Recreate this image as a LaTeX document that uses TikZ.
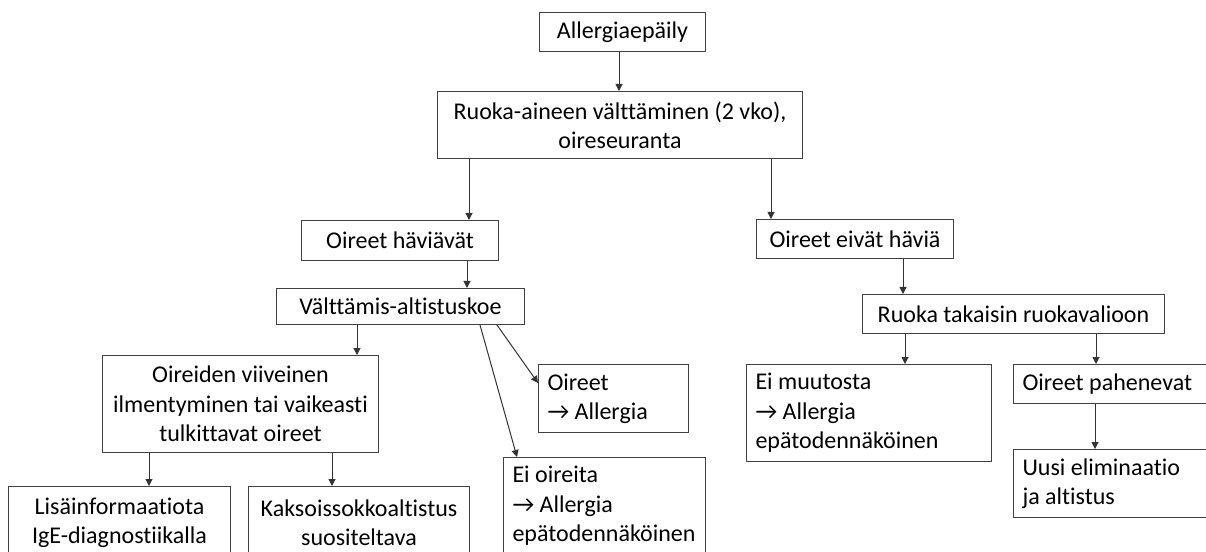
\documentclass[tikz,border=0pt]{standalone}
\usepackage{fontspec}
\setmainfont{Carlito}[Ligatures=NoCommon]
\usetikzlibrary{arrows.meta}
\newlength{\pxu}\setlength{\pxu}{0.75pt}

\begin{document}
\begin{tikzpicture}[x=\pxu,y=-\pxu,
    box/.style={draw=black!75,line width=1\pxu,inner xsep=9\pxu,inner ysep=2\pxu,
      anchor=north west,font=\fontsize{18}{22}\selectfont},
    cbox/.style={box,align=flush center},
    lbox/.style={box,align=flush left},
    arr/.style={draw=black!80,line width=1\pxu,-{Triangle[length=5.25pt,width=5.25pt]}}]
  \useasboundingbox (0,0) rectangle (1206,552);
  % top
  \node[cbox,minimum width=166\pxu,minimum height=39\pxu] (epaily) at (539,12) {Allergiaepäily};
  \node[cbox,minimum width=365\pxu,minimum height=67\pxu] (ruoka) at (437,91)
    {Ruoka-aineen välttäminen (2 vko),\\oireseuranta};
  % left branch
  \node[cbox,minimum width=197\pxu,minimum height=40\pxu] (hav) at (301,220) {Oireet häviävät};
  \node[cbox,minimum width=248\pxu,minimum height=36\pxu] (valt) at (276,288) {Välttämis-altistuskoe};
  \node[cbox,minimum width=276\pxu,minimum height=97\pxu] (viive) at (102,355)
    {Oireiden viiveinen\\ilmentyminen tai vaikeasti\\tulkittavat oireet};
  \node[cbox,minimum width=222\pxu,minimum height=72\pxu] (lisa) at (8,486)
    {Lisäinformaatiota\\IgE-diagnostiikalla};
  \node[cbox,minimum width=221\pxu,minimum height=72\pxu] (sokko) at (248,486)
    {Kaksoissokkoaltistus\\suositeltava};
  \node[lbox,text width=132\pxu,minimum height=68\pxu] (oireet) at (538,364)
    {Oireet\\\symbol{"2192} Allergia};
  \node[lbox,text width=184\pxu,minimum height=97\pxu] (eioir) at (503,457)
    {Ei oireita\\\symbol{"2192} Allergia\\epätodennäköinen};
  % right branch
  \node[cbox,minimum width=197\pxu,minimum height=39\pxu] (eivat) at (756,219) {Oireet eivät häviä};
  \node[cbox,minimum width=302\pxu,minimum height=39\pxu] (takaisin) at (862,294) {Ruoka takaisin ruokavalioon};
  \node[lbox,text width=227\pxu,minimum height=97\pxu] (muutos) at (746,364)
    {Ei muutosta\\\symbol{"2192} Allergia\\epätodennäköinen};
  \node[lbox,text width=182\pxu,minimum height=39\pxu] (pahen) at (1013,364) {Oireet pahenevat};
  \node[lbox,text width=182\pxu,minimum height=68\pxu] (uusi) at (1013,449)
    {Uusi eliminaatio\\ja altistus};
  % arrows
  \draw[arr] (epaily.south -| 619,0) -- (ruoka.north -| 619,0);
  \draw[arr] (ruoka.south -| 469,0) -- (hav.north -| 469,0);
  \draw[arr] (ruoka.south -| 771,0) -- (eivat.north -| 771,0);
  \draw[arr] (hav.south -| 467,0) -- (valt.north -| 467,0);
  \draw[arr] (valt.south -| 357,0) -- (viive.north -| 357,0);
  \draw[arr] (valt.south -| 497,0) -- (oireet.west |- 0,383);
  \draw[arr] (valt.south -| 480,0) -- (eioir.north -| 517,0);
  \draw[arr] (viive.south -| 149,0) -- (lisa.north -| 149,0);
  \draw[arr] (viive.south -| 332,0) -- (sokko.north -| 332,0);
  \draw[arr] (eivat.south -| 903,0) -- (takaisin.north -| 903,0);
  \draw[arr] (takaisin.south -| 905,0) -- (muutos.north -| 905,0);
  \draw[arr] (takaisin.south -| 1096,0) -- (pahen.north -| 1096,0);
  \draw[arr] (pahen.south -| 1095,0) -- (uusi.north -| 1095,0);
\end{tikzpicture}
\end{document}
